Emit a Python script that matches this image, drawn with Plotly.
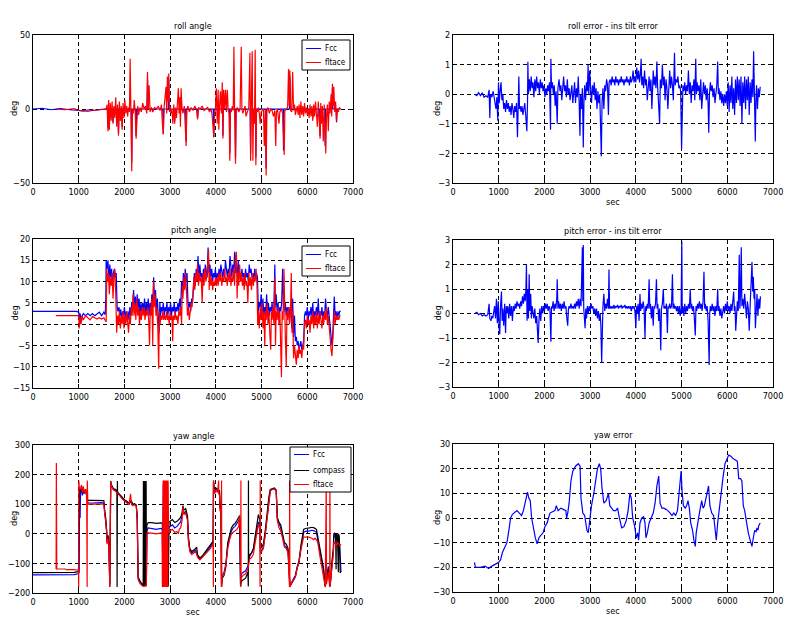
import plotly.graph_objects as go
from plotly.subplots import make_subplots

# ---- data: (sec, deg) samples ----
roll_fcc = [
    (0, 0), (200, 0.5), (400, -0.5), (600, 0.3), (800, -0.5), (1000, -1), (1200, -1.5), (1400, -0.5),
    (1600, 0), (1630, 0), (1640, -13), (1650, 0), (1740, 0), (1750, -9), (1760, 0), (1860, 0), (1870, -16),
    (1880, 0), (1940, 0), (1950, -12), (1960, 0), (2150, 0), (2160, -36), (2170, 0), (2245, 0), (2255, -18),
    (2265, 0), (2495, 0), (2505, 20), (2515, 0), (2840, 0), (2850, -17), (2860, 0), (2960, 0), (2970, 20),
    (2980, 0), (3090, 0), (3100, -8), (3110, 0), (3340, 0), (3350, -22), (3360, 0), (3590, 0), (3600, -6),
    (3610, 0), (3945, 0), (3955, -19), (3965, 0), (4145, 0), (4155, -18), (4165, 10), (4175, 0), (4295, 0),
    (4305, -30), (4315, 0), (4420, 0), (4430, -33), (4440, 0), (4750, 0), (4760, -30), (4770, 0), (4865, 0),
    (4875, -33), (4885, 0), (5090, 0), (5100, -40), (5110, 0), (5470, 0), (5480, -28), (5490, 0), (5610, 0),
    (5620, 22), (5630, 0), (6110, 0), (6120, -6), (6130, 0), (6270, 0), (6280, -18), (6290, 0), (6380, 0),
    (6390, -25), (6400, 0), (6540, 0), (6550, 14), (6560, 0), (6630, 0), (6640, -9), (6650, 0), (6730, 0),
]
roll_filter = [
    (500, 0), (700, -0.5), (900, 0.3), (1000, -1), (1100, -1.5), (1200, -0.5), (1350, -1), (1500, -0.5),
    (1600, 0), (1620, 3), (1640, -15), (1655, 6), (1670, -14), (1690, 4), (1710, -8), (1730, 5),
    (1750, -10), (1770, 2), (1790, -6), (1810, 8), (1830, -12), (1850, 3), (1870, -18), (1890, 5),
    (1910, -8), (1930, 2), (1950, -14), (1970, 4), (1990, -6), (2010, 6), (2030, -3), (2050, 2),
    (2070, -5), (2090, 1), (2110, -2), (2125, 34), (2140, -3), (2160, -42), (2175, 0), (2195, -3),
    (2215, 6), (2235, -2), (2255, -20), (2270, -5), (2290, 2), (2310, -4), (2340, 1), (2370, -2),
    (2400, 4), (2430, 0), (2460, 2), (2490, -3), (2505, 25), (2520, 0), (2540, 16), (2560, -2),
    (2590, 1), (2620, -2), (2660, 1), (2700, 0), (2740, 2), (2780, -1), (2810, 3), (2830, -10),
    (2850, -17), (2870, 2), (2890, 8), (2910, 15), (2925, -3), (2940, 22), (2955, 5), (2970, 24),
    (2985, -2), (3000, 2), (3020, -3), (3040, 0), (3060, -10), (3080, 3), (3100, -10), (3120, 1),
    (3140, -6), (3160, 2), (3180, 14), (3195, -3), (3210, 8), (3225, -12), (3240, 14), (3260, 0),
    (3280, -3), (3310, 2), (3330, -10), (3350, -25), (3365, 0), (3390, 2), (3420, -2), (3460, 1),
    (3500, -1), (3540, 2), (3580, -1), (3600, -7), (3620, 1), (3660, 0), (3700, 2), (3740, -1),
    (3780, 0), (3820, 1), (3860, -2), (3900, 0), (3920, -5), (3940, -17), (3955, -19), (3970, -5),
    (3990, 0), (4010, 14), (4030, -10), (4050, 13), (4065, -14), (4080, 2), (4100, 12), (4120, -3),
    (4140, 18), (4155, -20), (4170, 13), (4190, 0), (4210, 13), (4230, -2), (4250, 13), (4270, -1),
    (4290, -3), (4305, -35), (4320, 0), (4340, -2), (4360, 2), (4380, -1), (4395, 42), (4410, 0),
    (4430, -37), (4445, -1), (4470, 1), (4500, -2), (4530, 0), (4555, 42), (4570, 0), (4590, -3),
    (4610, -1), (4640, 2), (4660, -5), (4690, -1), (4720, 1), (4745, 38), (4760, -35), (4775, 2),
    (4795, 39), (4810, -35), (4825, 0), (4845, -10), (4860, 40), (4875, -38), (4890, 0), (4910, -2),
    (4930, 1), (4950, -3), (4970, -10), (4990, -2), (5010, -1), (5040, 0), (5060, -25), (5080, 0),
    (5100, -45), (5115, -1), (5140, 1), (5170, -3), (5200, 0), (5230, -1), (5260, -5), (5290, -1),
    (5310, -25), (5325, -2), (5350, 0), (5380, -10), (5400, -2), (5430, 0), (5460, -3), (5480, -30),
    (5495, -31), (5510, -1), (5540, 0), (5570, 1), (5590, 27), (5605, 2), (5620, 26), (5635, -1),
    (5660, -2), (5680, 25), (5700, -1), (5720, 3), (5740, -4), (5760, -1), (5780, 2), (5800, -4),
    (5820, 3), (5840, -6), (5860, 5), (5880, -4), (5900, 2), (5920, -5), (5940, 4), (5960, -3),
    (5980, 1), (6000, -4), (6020, 0), (6040, -6), (6060, 3), (6080, -5), (6100, 2), (6120, -8),
    (6140, 3), (6160, -5), (6180, 5), (6200, -3), (6220, -12), (6240, 5), (6260, -4), (6280, -20),
    (6295, 4), (6310, -10), (6330, 2), (6350, -22), (6370, 3), (6390, -28), (6405, -30), (6420, -5),
    (6440, 3), (6460, -15), (6480, 5), (6500, -3), (6520, 10), (6535, -5), (6550, 17), (6565, 2),
    (6580, 15), (6600, -2), (6620, 5), (6640, -8), (6660, 0), (6680, -2), (6700, 1), (6730, 0),
]
roll_err = [
    (480, 0), (520, -0.05), (560, 0.05), (600, -0.05), (640, 0.05), (680, -0.1), (720, -0.05), (760, -0.1),
    (790, 0.15), (805, -0.8), (820, 0), (850, -0.1), (880, 0.1), (910, -0.3), (940, -0.5), (960, -0.1),
    (980, -0.9), (995, 0.4), (1010, -0.3), (1030, 0.1), (1050, 0.4), (1070, -0.2), (1090, 0), (1110, -0.5),
    (1130, -0.3), (1150, -0.6), (1170, -0.2), (1190, -0.5), (1210, -0.3), (1230, -0.6), (1250, -0.4),
    (1270, -0.7), (1290, -0.3), (1310, -0.5), (1330, -0.8), (1350, -0.4), (1370, -0.6), (1390, -0.3),
    (1410, -1.45), (1425, -0.5), (1440, 0.6), (1455, -0.5), (1470, -0.4), (1490, -0.6), (1510, -0.4),
    (1530, -0.7), (1550, -0.5), (1570, -0.3), (1590, -0.7), (1615, -1.25), (1630, -0.3), (1638, 1.1),
    (1650, 0), (1670, 0.5), (1690, 0.1), (1710, 0.6), (1730, 0.2), (1750, 0.4), (1770, -0.1), (1790, 0.5),
    (1810, 0.1), (1830, 0.6), (1850, 0.2), (1870, 0.4), (1890, 0), (1910, 0.5), (1930, 0.2), (1950, 0.4),
    (1970, 0.1), (1990, 0.3), (2010, -0.1), (2030, 0.2), (2050, 0), (2070, 0.3), (2090, 0.1), (2110, 0.4),
    (2134, -1.2), (2141, 1.2), (2155, 0.2), (2175, 0.4), (2195, 0), (2215, 0.3), (2235, -0.4), (2255, 0.1),
    (2280, -1.0), (2295, 0.2), (2320, 0.5), (2340, 0.1), (2360, 0.3), (2380, -0.2), (2400, 0.2), (2420, 0.6),
    (2440, 0.1), (2460, 0.3), (2480, -0.1), (2500, 0.5), (2520, 0), (2540, 0.2), (2560, -0.2), (2580, 0.1),
    (2600, 0.3), (2620, -0.3), (2640, 0.1), (2660, 0.4), (2680, -0.3), (2700, 0.2), (2720, -0.1),
    (2740, 0.6), (2760, -0.3), (2777, -1.4), (2790, 0), (2810, -0.5), (2830, 0.2), (2850, -1.8),
    (2865, -0.2), (2880, 0.3), (2900, -0.2), (2920, 0.4), (2940, 0.1), (2955, 1.0), (2970, 0), (2990, 0.8),
    (3010, 0.2), (3030, -0.3), (3050, 0.3), (3070, 0), (3090, 0.4), (3110, -0.2), (3130, 0.2), (3150, -0.5),
    (3170, 0.1), (3190, -0.3), (3210, 0), (3230, -1.2), (3245, -2.1), (3260, -0.3), (3280, 0.2),
    (3300, -0.5), (3320, 0.3), (3340, 0.1), (3360, 0.5), (3380, 0.3), (3400, -0.7), (3415, 0.4),
    (3440, 0.5), (3460, 0.3), (3480, 0.6), (3500, 0.4), (3520, 0.5), (3540, 0.3), (3560, 0.6), (3580, 0.4),
    (3600, 0.5), (3620, 0.3), (3640, 0.5), (3660, 0.4), (3680, 0.6), (3700, 0.4), (3720, 0.5), (3740, 0.3),
    (3760, 0.5), (3780, 0.4), (3800, 0.6), (3820, 0.4), (3840, 0.5), (3860, 0.3), (3880, 0.6), (3900, 0.4),
    (3920, 0.5), (3940, 0.8), (3960, 0.4), (3980, 0.6), (4000, 0.4), (4020, 0.9), (4040, 0.5), (4060, 0.8),
    (4080, 0.4), (4100, 0.7), (4115, 1.2), (4130, 0.3), (4150, 0.6), (4170, 0.2), (4190, 0.8), (4210, 0.3),
    (4230, 0.5), (4250, -0.2), (4270, 0.4), (4290, 0.6), (4310, 0.1), (4330, 0.5), (4350, -0.5),
    (4365, 0.4), (4380, 0.8), (4400, 0.3), (4420, 0.6), (4440, 0.2), (4460, 1.1), (4475, 0.3), (4500, -0.8),
    (4520, -1.0), (4535, 0.5), (4560, 0.2), (4580, 1.0), (4600, 0.3), (4620, 0.6), (4640, -0.2), (4660, 0.5),
    (4680, 0.2), (4700, -0.5), (4720, 0.4), (4740, 0.8), (4760, 0.2), (4780, 0.6), (4800, 0.3),
    (4820, -0.2), (4845, 1.4), (4860, 0.3), (4880, 0.5), (4900, 0.4), (4920, 0.6), (4940, 0.2), (4960, 0.3),
    (4980, 0.1), (5000, -1.85), (5012, 0), (5030, 0.3), (5050, 0.1), (5070, 0.4), (5090, 0), (5110, 0.3),
    (5130, 0.1), (5150, 0.8), (5170, 0), (5190, 0.4), (5210, -0.3), (5230, 0.3), (5250, 0.1), (5270, 0.5),
    (5290, -0.2), (5310, 1.2), (5325, 0), (5340, 0.4), (5360, 0.1), (5380, 0.3), (5400, -0.2), (5420, 0.5),
    (5440, -0.5), (5460, 0.2), (5480, 0.4), (5500, 0), (5520, 0.3), (5540, -0.2), (5560, 0.2), (5580, -0.3),
    (5595, -1.3), (5610, 0), (5630, 0.4), (5650, 0.1), (5670, 0.3), (5690, -0.1), (5710, 0.2), (5730, -0.3),
    (5750, 0.1), (5770, 0.3), (5790, 1.1), (5805, 0), (5820, 0.2), (5840, -0.2), (5860, 0.1), (5880, -0.3),
    (5900, 0), (5920, -0.4), (5940, 0), (5960, -0.3), (5980, 0.1), (6000, -0.4), (6020, 0.4), (6040, -0.6),
    (6060, 0.3), (6080, -0.3), (6100, 0.6), (6120, -0.5), (6140, 0.2), (6160, -0.7), (6180, 0.5),
    (6200, -0.3), (6220, 0.6), (6240, -0.2), (6260, 0.5), (6280, -0.4), (6300, 0.6), (6320, -1.0),
    (6340, 0.4), (6360, -0.3), (6380, 0.6), (6400, -0.5), (6420, 0.5), (6440, -0.2), (6460, 0.6),
    (6480, -0.7), (6500, 0.4), (6520, -0.3), (6540, 0.5), (6560, -0.1), (6576, 1.45), (6590, -0.3),
    (6605, -0.8), (6613, -1.6), (6625, -0.3), (6640, 0.3), (6660, -0.5), (6680, 0.2), (6700, -0.1), (6720, 0.25),
]
pitch_fcc = [
    (0, 3), (500, 3), (800, 3), (950, 3), (1000, 2.8), (1010, 1.5), (1030, 2.5), (1060, 0.5), (1080, 2),
    (1100, 2.5), (1150, 2), (1200, 2.5), (1250, 2), (1300, 2.5), (1350, 2), (1400, 2.5), (1450, 2.8),
    (1500, 2), (1550, 2.8), (1580, 2.2), (1593, 6), (1600, 15), (1620, 13), (1640, 15), (1660, 10),
    (1680, 14), (1700, 11), (1720, 13), (1740, 9), (1760, 12), (1780, 13), (1800, 11), (1820, 12),
    (1840, 4), (1860, 3), (1880, 4), (1900, 2), (1920, 3.5), (1940, 1), (1960, 3), (1980, 2), (2000, 4),
    (2020, 1.5), (2040, 3), (2060, 0.5), (2080, 3), (2100, 1), (2120, 4), (2140, 2), (2160, 5), (2180, 3),
    (2200, 8), (2220, 4), (2240, 6.5), (2260, 3), (2280, 7), (2300, 4), (2320, 6), (2340, 2), (2360, 5),
    (2380, 3), (2400, 5), (2420, 3), (2440, 6), (2460, 2), (2480, 5), (2500, 3), (2520, 6), (2540, 2),
    (2560, 5), (2580, 3), (2600, 7), (2620, 4), (2640, 11), (2660, 5), (2680, 8), (2700, 3), (2720, 6),
    (2740, 1), (2760, -2), (2775, 5), (2790, 2), (2810, 4), (2830, 3), (2850, 5), (2870, 2), (2890, 4),
    (2910, 3), (2930, 5), (2950, 2), (2970, 4), (2990, 3), (3010, 5), (3030, 2), (3050, 4), (3070, 3),
    (3090, 5), (3110, 2), (3130, 4), (3150, 3), (3170, 5), (3190, 3), (3210, 6), (3230, 4), (3250, 10),
    (3270, 7), (3290, 12), (3310, 9), (3330, 13), (3350, 10), (3370, 12), (3390, 5), (3410, 4), (3430, 5),
    (3450, 3), (3470, 6), (3490, 5), (3510, 10), (3530, 12), (3550, 9), (3570, 13), (3590, 10), (3610, 16),
    (3630, 11), (3650, 14), (3670, 11), (3690, 12), (3710, 10), (3730, 13), (3750, 11), (3770, 14),
    (3790, 12), (3810, 11), (3830, 18), (3850, 12), (3870, 14), (3890, 11), (3910, 13), (3930, 10),
    (3950, 12), (3970, 11), (3990, 13), (4010, 10), (4030, 12), (4050, 11), (4070, 13), (4090, 11),
    (4110, 14), (4130, 12), (4150, 11), (4170, 13), (4190, 11), (4210, 15), (4230, 12), (4250, 11),
    (4270, 13), (4290, 12), (4310, 16), (4330, 12), (4350, 11), (4370, 14), (4390, 12), (4410, 17),
    (4430, 12), (4450, 14), (4470, 11), (4490, 15), (4510, 11), (4530, 12), (4550, 10), (4570, 13),
    (4590, 11), (4610, 12), (4630, 10), (4650, 13), (4670, 11), (4690, 12), (4710, 10), (4730, 14),
    (4750, 12), (4770, 13), (4790, 11), (4810, 12), (4830, 10), (4850, 13), (4870, 11), (4890, 12),
    (4910, 11), (4930, 3), (4950, 5), (4970, 4), (4990, 7), (5010, 3), (5030, 6), (5050, 2), (5070, 4),
    (5090, 2), (5110, 7), (5130, 3), (5150, 5), (5170, 2), (5190, 4), (5210, 3), (5230, 5), (5250, 2),
    (5270, 4), (5290, 14), (5300, 4), (5320, 7), (5340, 3), (5360, 5), (5380, 2), (5400, 4), (5420, 3),
    (5440, 5), (5460, 13), (5480, 4), (5500, 3), (5520, 5), (5540, 2), (5560, 4), (5580, 3), (5600, 4),
    (5620, 2), (5640, 4), (5660, -1), (5680, 6), (5700, -3), (5720, 2), (5740, -4), (5760, -3), (5780, -5),
    (5800, -4), (5820, -6), (5840, -5), (5860, -4), (5880, -6), (5900, -5), (5920, -4), (5940, 2),
    (5960, 3), (5980, 2), (6000, 4), (6020, 1), (6040, 3), (6060, 2), (6080, 4), (6100, 2), (6120, 5),
    (6140, 1), (6160, 3), (6180, 2), (6200, 4), (6220, 2), (6240, 6), (6260, 1), (6280, 3), (6300, 2),
    (6320, 4), (6340, 1), (6360, 3), (6380, 2), (6400, 6), (6420, 3), (6440, 2), (6460, 4), (6480, 2),
    (6500, 0), (6520, -3), (6540, -5), (6555, -3), (6570, 2), (6590, 6.5), (6610, 2), (6630, 3), (6650, 1),
    (6670, 3), (6690, 2), (6710, 3), (6730, 3),
]
pitch_filter = [
    (500, 2), (980, 2), (1000, 2), (1010, -1), (1030, 1.5), (1050, 0), (1070, 2), (1100, 1), (1150, 2),
    (1200, 1.5), (1250, 1), (1300, 1.8), (1350, 1.5), (1400, 1.2), (1450, 1.5), (1500, 1.2), (1550, 1.5),
    (1580, 1), (1600, 0.5), (1615, 13), (1630, 10), (1650, 12), (1670, 7), (1690, 11), (1710, 9),
    (1730, 12), (1750, 6), (1770, 11), (1790, 13), (1810, 7), (1830, -2), (1850, 2), (1870, 0), (1890, 3),
    (1910, -1), (1930, 2), (1950, 0), (1970, 3), (1990, -1), (2010, 2), (2030, 0), (2050, 3), (2070, 1),
    (2090, -2), (2110, 2), (2130, 0), (2150, 4), (2170, 2), (2190, 7), (2210, 2), (2230, 5), (2250, 1),
    (2270, 6), (2290, 2), (2310, 4), (2330, 0), (2350, 3), (2370, 1), (2390, 4), (2410, 2), (2430, 4),
    (2450, 1), (2470, 3), (2490, 2), (2510, 4), (2530, 1), (2550, -5), (2565, 4), (2580, 2), (2600, 6),
    (2620, -5), (2635, 10), (2650, 4), (2670, 7), (2690, 2), (2710, 4), (2730, -1), (2750, -10.5),
    (2765, 3), (2780, 0), (2800, 2), (2820, 1), (2840, 3), (2860, 1), (2880, 2), (2900, 1), (2920, 3),
    (2940, 1), (2960, 2), (2980, 0), (3000, 3), (3020, 1), (3040, 2), (3055, -4), (3070, 2), (3090, 1),
    (3110, 3), (3130, 1), (3150, 2), (3170, 0), (3190, 3), (3210, 2), (3230, 4), (3250, 0), (3265, 9),
    (3280, 6), (3300, 11), (3320, 8), (3340, 12), (3360, 5), (3380, 2), (3400, 4), (3420, 1), (3440, 3),
    (3460, 5), (3480, 4), (3500, 9), (3520, 11), (3540, 8), (3560, 12), (3580, 10), (3600, 14), (3620, 9),
    (3640, 12), (3660, 10), (3680, 11), (3700, 5), (3720, 12), (3740, 9), (3760, 13), (3780, 10),
    (3800, 11), (3820, 14), (3840, 17.5), (3855, 8), (3870, 12), (3890, 9), (3910, 11), (3930, 8),
    (3950, 10), (3970, 9), (3990, 11), (4010, 9), (4030, 11), (4050, 9), (4070, 12), (4090, 10),
    (4110, 12), (4130, 9), (4150, 11), (4170, 10), (4190, 13), (4210, 10), (4230, 11), (4250, 9),
    (4270, 12), (4290, 10), (4310, 13), (4330, 9), (4350, 11), (4370, 10), (4390, 13), (4410, 9),
    (4430, 16), (4450, 17), (4465, 6), (4480, 12), (4500, 9), (4520, 14), (4540, 10), (4560, 12),
    (4580, 9), (4600, 11), (4620, 8), (4640, 12), (4660, 9), (4680, 10), (4700, 5), (4720, 12), (4740, 9),
    (4760, 11), (4780, 8), (4800, 12), (4820, 9), (4840, 11), (4860, 10), (4880, 13), (4900, 9),
    (4915, 0), (4930, 3), (4950, -1), (4970, 4), (4990, 1), (5010, 5), (5030, -1), (5050, 3), (5070, -5),
    (5085, 3), (5100, 1), (5120, 5), (5140, 0), (5160, 3), (5180, -2), (5200, -6), (5215, 3), (5230, 1),
    (5250, 4), (5270, 0), (5290, 11), (5305, -5), (5320, 3), (5340, 1), (5360, 4), (5380, 0), (5400, 3),
    (5420, -5), (5435, -12.5), (5450, 3), (5470, 1), (5490, 13), (5505, 2), (5520, -3), (5540, -10),
    (5555, 3), (5570, 1), (5590, 4), (5610, 0), (5630, 2), (5650, 12), (5665, -2), (5680, 3), (5700, -8),
    (5720, -5), (5740, -7), (5760, -9.5), (5780, -6), (5800, -8), (5820, -5), (5840, -7), (5860, -6),
    (5880, -8), (5900, -5), (5920, -6), (5940, 0), (5960, 1), (5980, -1), (6000, 2), (6020, 0), (6040, 1),
    (6060, -2), (6080, 2), (6100, 0), (6120, 3), (6140, -1), (6160, 2), (6180, 0), (6200, 3), (6220, -1),
    (6240, 2), (6260, 0), (6280, 3), (6300, 1), (6320, -1), (6340, 2), (6360, 0), (6380, 3), (6400, 1),
    (6420, 4), (6440, 0), (6460, 2), (6480, -1), (6500, -5), (6520, -6), (6540, -7.5), (6555, -4),
    (6570, 0), (6590, 3), (6610, 0), (6630, 2), (6650, 1), (6670, 2), (6690, 1), (6710, 2), (6730, 2),
]
pitch_err = [
    (480, 0), (520, 0.05), (560, -0.05), (600, 0), (640, -0.1), (680, -0.05), (720, -0.1), (760, -0.05),
    (790, 0.4), (805, -0.2), (830, -0.3), (850, -0.1), (870, -0.2), (890, 0.1), (910, 0.3), (930, -0.2),
    (950, 0.6), (970, -0.4), (990, 0.5), (1010, -0.6), (1023, -0.85), (1040, 0.3), (1060, 0.9),
    (1075, -0.3), (1090, 0.2), (1110, -0.5), (1130, 0.4), (1150, -0.8), (1165, 0.3), (1180, 0), (1200, 0.3),
    (1220, -0.2), (1240, 0.4), (1260, -0.1), (1280, 0.3), (1300, -0.3), (1320, 0.3), (1340, 0.1),
    (1360, 0.4), (1380, 0.2), (1400, 0.5), (1420, 0.3), (1440, 0.4), (1460, 0.2), (1480, 0.5), (1500, 0.3),
    (1520, 0.7), (1540, 0.4), (1560, 0.8), (1580, 0.5), (1595, 1.0), (1607, 2.0), (1620, -0.3), (1635, 1.0),
    (1650, -0.2), (1666, 1.6), (1680, 0.1), (1700, 0.8), (1715, -0.2), (1730, 0.3), (1750, 0), (1770, -0.2),
    (1790, 0.2), (1810, -0.4), (1830, -0.1), (1850, -0.8), (1863, -1.2), (1880, -0.3), (1900, 0.2),
    (1920, -0.3), (1940, 0.3), (1960, 0), (1980, 0.3), (2000, 0.1), (2020, 0.4), (2040, 0.2), (2060, 0.4),
    (2080, 0.1), (2100, 0.3), (2120, 0.2), (2141, -1.15), (2155, 0.3), (2170, 0.2), (2190, 0.5), (2210, 0.1),
    (2230, 0.4), (2250, 0.2), (2270, 0.6), (2280, 1.4), (2295, 0.2), (2310, 0.5), (2330, 0.2), (2350, 0.4),
    (2370, 0.1), (2390, 0.4), (2410, 0.2), (2430, 0.5), (2450, 0.2), (2470, 0.3), (2490, -0.2), (2510, -0.5),
    (2525, 0.2), (2540, 0.3), (2560, 0.2), (2580, 0.4), (2600, 0.2), (2620, 0.3), (2640, 0.2), (2660, 0.4),
    (2680, 0.2), (2700, 0.5), (2720, 0.3), (2740, 0.6), (2760, 0.2), (2780, 0.6), (2800, 0.3), (2815, 1.8),
    (2830, 2.7), (2840, 0.5), (2850, 2.8), (2860, 0.2), (2875, -0.3), (2890, -0.6), (2905, 0.2),
    (2920, -0.2), (2940, 0.3), (2960, 0), (2980, 0.3), (3000, 0.1), (3020, 0.4), (3040, 0.2), (3060, 0.3),
    (3080, 0), (3100, 0.2), (3120, -0.1), (3140, 0.2), (3160, -0.2), (3180, 0.1), (3200, -0.3), (3220, 0),
    (3235, -0.5), (3252, -2.0), (3265, 0), (3280, 0.3), (3300, 0.8), (3320, 0.1), (3340, 0.4), (3360, 0.2),
    (3380, 0.6), (3400, 0.2), (3412, 1.8), (3425, 0.2), (3440, 0.3), (3460, 0.2), (3480, 0.3), (3500, 0.2),
    (3520, 0.35), (3540, 0.2), (3560, 0.3), (3580, 0.25), (3600, 0.35), (3620, 0.2), (3640, 0.3),
    (3660, 0.25), (3680, 0.35), (3700, 0.2), (3720, 0.3), (3740, 0.25), (3760, 0.35), (3780, 0.2),
    (3800, 0.3), (3820, 0.2), (3840, 0.3), (3860, 0.2), (3880, 0.3), (3900, 0.1), (3920, 0.3), (3940, 0.2),
    (3960, 0.3), (3980, 0.1), (4000, -0.6), (4015, 0.3), (4030, 0), (4050, 0.4), (4070, -0.3), (4090, 0.8),
    (4105, 0.1), (4120, 0.4), (4140, 0.2), (4160, 0.5), (4180, 0.2), (4200, -1.0), (4215, 0.3), (4230, 0.1),
    (4250, 0.4), (4270, 0.2), (4290, 1.4), (4305, 0.2), (4320, 0.4), (4340, -0.2), (4360, 0.3), (4380, -0.5),
    (4395, 0.3), (4410, 0.2), (4430, 0.4), (4450, 1.4), (4465, 0.2), (4480, 0.4), (4500, -0.3), (4520, 0.2),
    (4545, -1.5), (4560, 0.2), (4580, 0.4), (4600, 1.0), (4615, 0.2), (4630, 0.3), (4650, 0.2), (4670, 0.4),
    (4690, -0.8), (4705, 0.3), (4720, 0.2), (4740, 0.4), (4760, 0.2), (4780, 0.3), (4800, 1.6), (4815, 0.2),
    (4830, 0.4), (4850, 0.2), (4870, 0.3), (4890, 0.1), (4910, 0.3), (4930, 0), (4950, 0.3), (4970, -0.1),
    (4990, 0.2), (5005, 2.95), (5015, 0), (5030, 0.3), (5050, -0.1), (5070, 0.4), (5090, 0), (5110, 0.3),
    (5130, 0.1), (5150, 0.4), (5170, 0.2), (5190, 1.0), (5205, 0.2), (5220, 0.4), (5240, 0.1), (5260, 0.3),
    (5280, -0.2), (5300, -0.9), (5315, 0.3), (5330, 0.1), (5350, 0.4), (5370, 0.2), (5390, 0.5), (5410, 0.2),
    (5430, 0.4), (5450, 0.1), (5470, 0.5), (5490, 1.7), (5505, 0.2), (5520, 0.4), (5540, 0.1), (5560, 0.3),
    (5580, -0.3), (5595, -1.4), (5604, -2.1), (5615, 0), (5630, 0.3), (5650, 0.1), (5670, 0.4), (5690, 0.1),
    (5710, 0.3), (5730, -0.1), (5750, 0.3), (5770, 0.1), (5790, 1.0), (5805, 0.1), (5820, 0.3), (5840, -0.1),
    (5860, 0.2), (5880, -0.2), (5900, 0.1), (5920, 0.3), (5940, 0), (5960, 0.4), (5980, 0.1), (6000, 0.5),
    (6020, 0.1), (6040, 0.3), (6060, 0), (6080, 0.4), (6100, 0.1), (6120, 0.5), (6140, 0.9), (6155, 0.1),
    (6170, 0.3), (6185, -0.7), (6200, 0.2), (6220, 0.5), (6240, 0.1), (6262, 2.4), (6275, 0.2), (6290, 0.8),
    (6306, 2.7), (6320, 0.3), (6340, 0.6), (6360, 0.2), (6380, 0.8), (6400, 0.3), (6420, -0.2), (6440, 0.5),
    (6460, 0.2), (6480, -0.7), (6495, 0.4), (6510, 0.8), (6525, 1.4), (6540, 2.1), (6555, 0.9), (6570, 1.5),
    (6585, 0.6), (6600, 1.0), (6615, -0.6), (6630, 0.2), (6650, 0.8), (6670, -0.1), (6690, 0.6),
    (6710, 0.2), (6725, 0.7),
]
yaw_fcc = [
    (0, -139), (500, -139), (900, -138), (990, -135), (1010, -130), (1020, 150), (1030, 53), (1040, 140),
    (1060, 150), (1080, 130), (1100, 145), (1120, 135), (1150, 150), (1180, 120), (1200, 104), (1300, 104),
    (1400, 105), (1500, 105), (1550, 103), (1570, 70), (1590, 50), (1610, 10), (1620, -30), (1640, -10),
    (1660, -40), (1680, -170), (1700, 170), (1720, 160), (1760, 150), (1800, 148), (1850, 140), (1900, 130),
    (1950, 120), (2000, 112), (2050, 108), (2100, 100), (2150, 110), (2180, 98), (2220, 100), (2260, 95),
    (2280, 50), (2300, -150), (2340, -165), (2380, -170), (2420, -175), (2480, -170), (2490, 10),
    (2520, 20), (2600, 18), (2700, 15), (2800, 18), (2830, 15), (2840, -170), (2850, 170), (2870, -170),
    (2890, 170), (2910, -170), (2930, 170), (2950, -170), (2970, 20), (3000, 25), (3050, 30), (3100, 20),
    (3150, 25), (3200, 35), (3230, 40), (3260, 60), (3280, 85), (3300, 70), (3340, 75), (3380, 50),
    (3400, -20), (3430, -55), (3470, -65), (3520, -60), (3560, -55), (3600, -75), (3650, -85), (3700, -78),
    (3750, -70), (3800, -60), (3850, -50), (3900, -40), (3940, -30), (3950, 170), (3970, 140), (4000, 150),
    (4040, 145), (4080, 140), (4095, 80), (4110, 90), (4125, -170), (4140, -140), (4180, -130),
    (4220, -100), (4260, -40), (4300, -10), (4340, 10), (4380, 20), (4420, 25), (4460, 35), (4500, 45),
    (4520, 50), (4540, -170), (4560, -135), (4600, -130), (4650, -125), (4700, -110), (4740, -70),
    (4780, -65), (4820, -55), (4860, -20), (4900, 20), (4930, 40), (4960, 30), (4975, -60), (5000, -55),
    (5040, -45), (5080, 0), (5120, 60), (5160, 120), (5190, 145), (5230, 150), (5280, 152), (5320, 145),
    (5345, 50), (5380, 35), (5420, 20), (5460, -10), (5500, -40), (5540, -45), (5580, -60), (5620, -175),
    (5650, -165), (5700, -150), (5740, -140), (5780, -110), (5820, -90), (5860, -50), (5900, -10),
    (5920, 5), (5960, 8), (6000, 10), (6050, 10), (6100, 12), (6150, 10), (6200, 5), (6230, -20),
    (6270, -60), (6320, -100), (6360, -130), (6390, -175), (6420, -150), (6460, -110), (6500, -175),
    (6540, -100), (6570, -60), (6580, -10), (6600, -5), (6630, -20), (6660, -10), (6690, -30), (6710, -40),
    (6737, -130),
]
yaw_compass = [
    (0, -131), (500, -131), (900, -130), (995, -128), (1015, 155), (1040, 145), (1060, 160), (1080, 140),
    (1100, 155), (1120, 140), (1150, 150), (1180, 125), (1200, 113), (1300, 113), (1400, 113), (1500, 113),
    (1550, 112), (1570, 75), (1590, 55), (1610, 15), (1620, -25), (1640, -5), (1660, -30), (1680, -180),
    (1700, 178), (1720, 165), (1760, 152), (1800, 150), (1835, 145), (1840, -180), (1846, 178), (1850, 140),
    (1900, 132), (1950, 122), (2000, 115), (2050, 110), (2100, 103), (2150, 112), (2180, 100), (2220, 102),
    (2260, 97), (2280, 55), (2300, -145), (2340, -160), (2380, -170), (2410, -175), (2415, 178),
    (2420, -178), (2425, 178), (2430, -178), (2435, 178), (2440, -178), (2445, 178), (2450, -178),
    (2455, 178), (2460, -178), (2465, 178), (2470, -178), (2475, 178), (2480, -175), (2490, 30), (2520, 38),
    (2600, 38), (2700, 35), (2800, 37), (2830, 35), (2840, -178), (2860, 178), (2880, -178), (2900, 178),
    (2920, -178), (2940, 178), (2960, -178), (2975, 40), (3000, 42), (3050, 48), (3100, 38), (3150, 42),
    (3200, 50), (3230, 55), (3260, 70), (3280, 95), (3300, 80), (3340, 85), (3380, 60), (3400, -10),
    (3430, -50), (3470, -60), (3520, -55), (3560, -50), (3580, -45), (3600, -70), (3650, -82), (3700, -75),
    (3750, -65), (3800, -55), (3850, -45), (3900, -35), (3940, -25), (3948, 180), (3970, 145), (4000, 155),
    (4040, 150), (4080, 145), (4095, 85), (4110, 95), (4125, -178), (4140, -150), (4180, -140),
    (4220, -110), (4260, -30), (4300, 0), (4340, 20), (4380, 30), (4420, 35), (4460, 45), (4500, 60),
    (4520, 62), (4540, -178), (4560, -160), (4600, -155), (4650, -150), (4700, -130), (4710, -178),
    (4713, 180), (4716, -90), (4740, -75), (4780, -65), (4820, -50), (4860, -5), (4900, 40), (4930, 65),
    (4960, 50), (4975, -50), (5000, -45), (5040, -35), (5080, 10), (5120, 70), (5160, 125), (5190, 150),
    (5230, 152), (5280, 155), (5320, 148), (5345, 55), (5380, 40), (5420, 30), (5460, 0), (5500, -30),
    (5540, -35), (5580, -50), (5620, -178), (5650, -170), (5700, -155), (5740, -145), (5780, -115),
    (5820, -95), (5860, -40), (5900, 0), (5920, 15), (5960, 18), (6000, 20), (6050, 20), (6100, 22),
    (6150, 20), (6200, 15), (6230, -10), (6270, -50), (6320, -90), (6360, -120), (6390, -178),
    (6420, -160), (6460, -120), (6500, -178), (6540, -90), (6570, -50), (6580, 0), (6600, 2), (6620, -5),
    (6630, -120), (6635, 0), (6660, -5), (6680, -130), (6685, 0), (6700, -10), (6720, -130), (6737, -130),
]
yaw_filter = [
    (500, -119), (505, -119), (511, 239), (520, -119), (700, -119), (730, -121), (900, -121), (995, -123),
    (1000, -180), (1003, 180), (1015, 155), (1040, 150), (1060, 165), (1080, 140), (1100, 160), (1120, 135),
    (1150, 150), (1175, 130), (1184, -180), (1188, 180), (1200, 100), (1300, 100), (1400, 102), (1500, 100),
    (1550, 100), (1570, 65), (1590, 45), (1610, 5), (1620, -35), (1640, -15), (1660, -45), (1680, -180),
    (1700, 175), (1720, 160), (1760, 148), (1800, 145), (1850, 138), (1900, 128), (1950, 118), (2000, 110),
    (2050, 105), (2100, 98), (2134, 135), (2150, 105), (2180, 95), (2220, 98), (2260, 92), (2280, 45),
    (2300, -155), (2340, -168), (2380, -175), (2420, -178), (2480, -172), (2490, 0), (2520, 3), (2600, 2),
    (2700, 0), (2800, 3), (2825, 0),
    (2830, -180), (2836, 180), (2842, -180), (2848, 180), (2854, -180), (2860, 180), (2866, -180),
    (2872, 180), (2878, -180), (2884, 180), (2890, -180), (2896, 180), (2902, -180), (2908, 180),
    (2914, -180), (2920, 180), (2926, -180), (2932, 180), (2938, -180), (2944, 180), (2950, -180),
    (2956, 180), (2960, -180),
    (2965, 5), (3000, 10), (3050, 15), (3100, 5), (3150, 8), (3178, 0), (3200, 15), (3230, 20), (3260, 45),
    (3280, 90), (3300, 65), (3340, 70), (3380, 45), (3400, -25), (3430, -60), (3470, -70), (3520, -65),
    (3560, -60), (3600, -80), (3650, -88), (3700, -80), (3750, -72), (3800, -65), (3850, -55), (3900, -45),
    (3940, -35), (3946, -180), (3948, 180), (3970, 135), (4000, 145), (4040, 140), (4060, 180), (4064, 135),
    (4080, 130), (4095, 75), (4110, 85), (4120, -180), (4125, 180), (4130, -180), (4140, -140),
    (4180, -135), (4220, -105), (4260, -50), (4300, -20), (4340, 0), (4380, 5), (4420, 10), (4460, 15),
    (4500, 25), (4516, 60), (4530, 20), (4545, -180), (4548, 180), (4552, -150), (4600, -140), (4650, -135),
    (4700, -120), (4740, -85), (4780, -80), (4820, -70), (4860, -30), (4900, 10), (4930, 30), (4960, 20),
    (4967, -180), (4970, 180), (4975, -65), (5000, -60), (5040, -50), (5080, -5), (5120, 55), (5160, 115),
    (5190, 145), (5230, 150), (5280, 152), (5320, 145), (5345, 45), (5380, 20), (5420, 10), (5460, -15),
    (5500, -45), (5540, -50), (5580, -65), (5610, -180), (5614, 180), (5620, -180), (5650, -168),
    (5700, -155), (5740, -145), (5780, -115), (5820, -95), (5860, -55), (5900, -20), (5920, -10),
    (5960, -12), (6000, -10), (6050, -12), (6100, -15), (6138, -20), (6170, -15), (6200, -20), (6230, -30),
    (6270, -70), (6320, -110), (6360, -140), (6394, -180), (6415, 180), (6420, -170), (6460, -130),
    (6490, -180), (6495, 180), (6500, -175), (6540, -110), (6570, -70), (6580, -30), (6600, -30),
    (6630, -40), (6660, -30), (6690, -35), (6710, -40), (6737, -35),
]
yaw_err = [
    (470, -18), (490, -20), (600, -20), (700, -19.5), (780, -20.5), (850, -19.5), (950, -18.5), (1000, -18),
    (1040, -17), (1080, -14), (1130, -12), (1180, -10), (1230, -4), (1260, 0), (1300, 1.5), (1360, 2.5),
    (1400, 3), (1450, 2), (1500, 1), (1540, 3), (1580, 7), (1630, 10.5), (1660, 8), (1690, 7), (1720, 0),
    (1760, -5), (1800, -8), (1840, -10.5), (1880, -8), (1920, -7), (1970, -6), (2010, -3.5), (2060, -2),
    (2120, 2), (2180, 2.5), (2230, 3), (2260, 5), (2300, 3), (2360, 4), (2420, 3.5), (2470, 3), (2485, 0),
    (2510, 2), (2540, 6), (2580, 15), (2620, 19), (2680, 21), (2740, 22), (2780, 21), (2800, 8), (2840, 2),
    (2880, 1), (2930, -5), (2960, -6), (2990, -1), (3030, 5), (3080, 10), (3120, 15), (3160, 20), (3200, 22),
    (3230, 20), (3260, 12), (3300, 6), (3350, 7), (3400, 10), (3430, 5), (3470, 4), (3510, 3), (3560, 3),
    (3600, 4), (3640, 0), (3690, -4), (3740, -3.5), (3790, -1), (3830, 3), (3870, 10), (3900, 8), (3930, 0),
    (3970, -3), (4010, -8), (4040, -6), (4060, -9), (4090, -2), (4130, 0), (4170, 0.5), (4200, -2),
    (4220, -8), (4250, -6), (4290, -2), (4340, 0), (4380, 2), (4420, 6), (4460, 13), (4500, 17), (4530, 6),
    (4570, 4), (4610, 4), (4660, 3.5), (4700, 3), (4750, 2), (4790, 1), (4830, 2), (4870, 1), (4910, 3),
    (4940, 10), (4970, 15), (4990, 19), (5010, 11), (5040, 5), (5080, 4), (5110, 5), (5140, 7), (5170, 4),
    (5200, -2), (5240, -5), (5270, -9), (5300, -11.5), (5320, -6), (5350, -2), (5390, 2), (5440, 7),
    (5470, 4), (5500, 5), (5540, 9), (5590, 13), (5620, 5), (5660, 2), (5700, 1), (5730, -5), (5760, -9),
    (5790, -2), (5830, 5), (5870, 12), (5910, 17), (5950, 22), (5990, 24), (6030, 25.5), (6080, 25),
    (6130, 24), (6180, 23.5), (6220, 23), (6250, 16), (6290, 16), (6320, 15), (6350, 5), (6380, 3),
    (6420, -2), (6460, -6), (6500, -9), (6540, -11.5), (6570, -8), (6600, -5), (6630, -5.5), (6650, -4),
    (6670, -5), (6690, -3), (6720, -2),
]

titles = ["roll angle", "roll error - ins tilt error", "pitch angle",
          "pitch error - ins tilt error", "yaw angle", "yaw error"]
y_ranges = [(-50, 50), (-3, 2), (-15, 20), (-3, 3), (-200, 300), (-30, 30)]
y_steps = [50, 1, 5, 1, 100, 10]
legend_names = [["Fcc", "fltace"], ["Fcc", "fltace"], ["Fcc", "compass", "fltace"]]

FONT = "Liberation Sans Narrow, DejaVu Sans Condensed, Arial Narrow, sans-serif"
BLUE, RED, BLACK = "#0000ff", "#ff0000", "#000000"

# the page body adds an 8px margin, so the figure is drawn 8px smaller
PAD = 8
W, H = 794 - PAD, 630 - PAD


def px(x, y):
    # window pixel -> paper fraction
    return (x - PAD) / W, 1 - (y - PAD) / H


def xy(pts):
    return [p[0] for p in pts], [p[1] for p in pts]


fig = make_subplots(rows=3, cols=2)


def add(pts, row, col, color):
    x, y = xy(pts)
    fig.add_trace(go.Scatter(x=x, y=y, mode="lines", showlegend=False,
                             line=dict(color=color, width=1.2)),
                  row=row, col=col)


add(roll_fcc, 1, 1, BLUE)
add(roll_filter, 1, 1, RED)
add(roll_err, 1, 2, BLUE)
add(pitch_fcc, 2, 1, BLUE)
add(pitch_filter, 2, 1, RED)
add(pitch_err, 2, 2, BLUE)
add(yaw_fcc, 3, 1, BLUE)
add(yaw_compass, 3, 1, BLACK)
add(yaw_filter, 3, 1, RED)
add(yaw_err, 3, 2, BLUE)

# panel boxes in window pixels: (left, top, right, bottom)
boxes = [(33, 35, 353, 183), (453, 35, 773, 183),
         (33, 239, 353, 388), (453, 240, 773, 387),
         (33, 445, 353, 593), (453, 444, 773, 592)]

txt = dict(family=FONT, size=9, color="black")
annotations = []
shapes = []
for i, (l, t, r, b) in enumerate(boxes):
    ax = "" if i == 0 else str(i + 1)
    lo, hi = y_ranges[i]
    x0, y0 = px(l, b)
    x1, y1 = px(r, t)
    fig.layout["xaxis" + ax].update(domain=[x0, x1], range=[0, 7000], dtick=1000, tick0=0)
    fig.layout["yaxis" + ax].update(domain=[y0, y1], range=[lo, hi], dtick=y_steps[i], tick0=lo)
    for key in ("xaxis" + ax, "yaxis" + ax):
        fig.layout[key].update(
            showline=True, linecolor="black", linewidth=1, mirror="allticks",
            ticks="inside", ticklen=4, tickcolor="black", automargin=False,
            showgrid=True, gridcolor="black", gridwidth=1, griddash="4px,3px",
            zeroline=False, tickfont=txt)
    cx = (l + r) / 2
    annotations.append(dict(text=titles[i], x=px(cx, 0)[0], y=px(0, t - 9)[1],
                            xanchor="center", yanchor="middle", font=txt))
    lab_x = 14 if l < 400 else 437
    annotations.append(dict(text="deg", x=px(lab_x, 0)[0], y=px(0, (t + b) / 2)[1],
                            xanchor="center", yanchor="middle", textangle=-90, font=txt))
    if i in (1, 4, 5):
        annotations.append(dict(text="sec", x=px(cx, 0)[0], y=px(0, b + 19)[1],
                                xanchor="center", yanchor="middle", font=txt))

# legend boxes drawn like the MATLAB ones: (left, top, right, bottom)
legend_boxes = [(302, 40, 350, 70), (302, 246, 350, 276), (290, 447, 351, 492)]
legend_colors = [[BLUE, RED], [BLUE, RED], [BLUE, BLACK, RED]]
for (l, t, r, b), names, cols in zip(legend_boxes, legend_names, legend_colors):
    bx0, by0 = px(l, b)
    bx1, by1 = px(r, t)
    shapes.append(dict(type="rect", xref="paper", yref="paper", x0=bx0, y0=by0, x1=bx1, y1=by1,
                       line=dict(color="black", width=1), fillcolor="white", layer="above"))
    step = (b - t) / len(names)
    for k, (name, c) in enumerate(zip(names, cols)):
        yy = round(t + step * (k + 0.5)) + 0.5
        lx0, ly = px(l + 4, yy)
        lx1, _ = px(l + 19, yy)
        shapes.append(dict(type="line", xref="paper", yref="paper", x0=lx0, y0=ly, x1=lx1, y1=ly,
                           line=dict(color=c, width=1), layer="above"))
        annotations.append(dict(text=name, x=px(l + 21, 0)[0], y=ly, xanchor="left",
                                yanchor="middle", font=dict(family=FONT, size=8, color="black")))

for a in annotations:
    a.update(xref="paper", yref="paper", showarrow=False)

fig.update_layout(
    template="none",
    width=W, height=H,
    margin=dict(l=0, r=0, t=0, b=0),
    paper_bgcolor="white", plot_bgcolor="white",
    annotations=annotations, shapes=shapes,
    showlegend=False,
)

fig.write_html("out.html")
